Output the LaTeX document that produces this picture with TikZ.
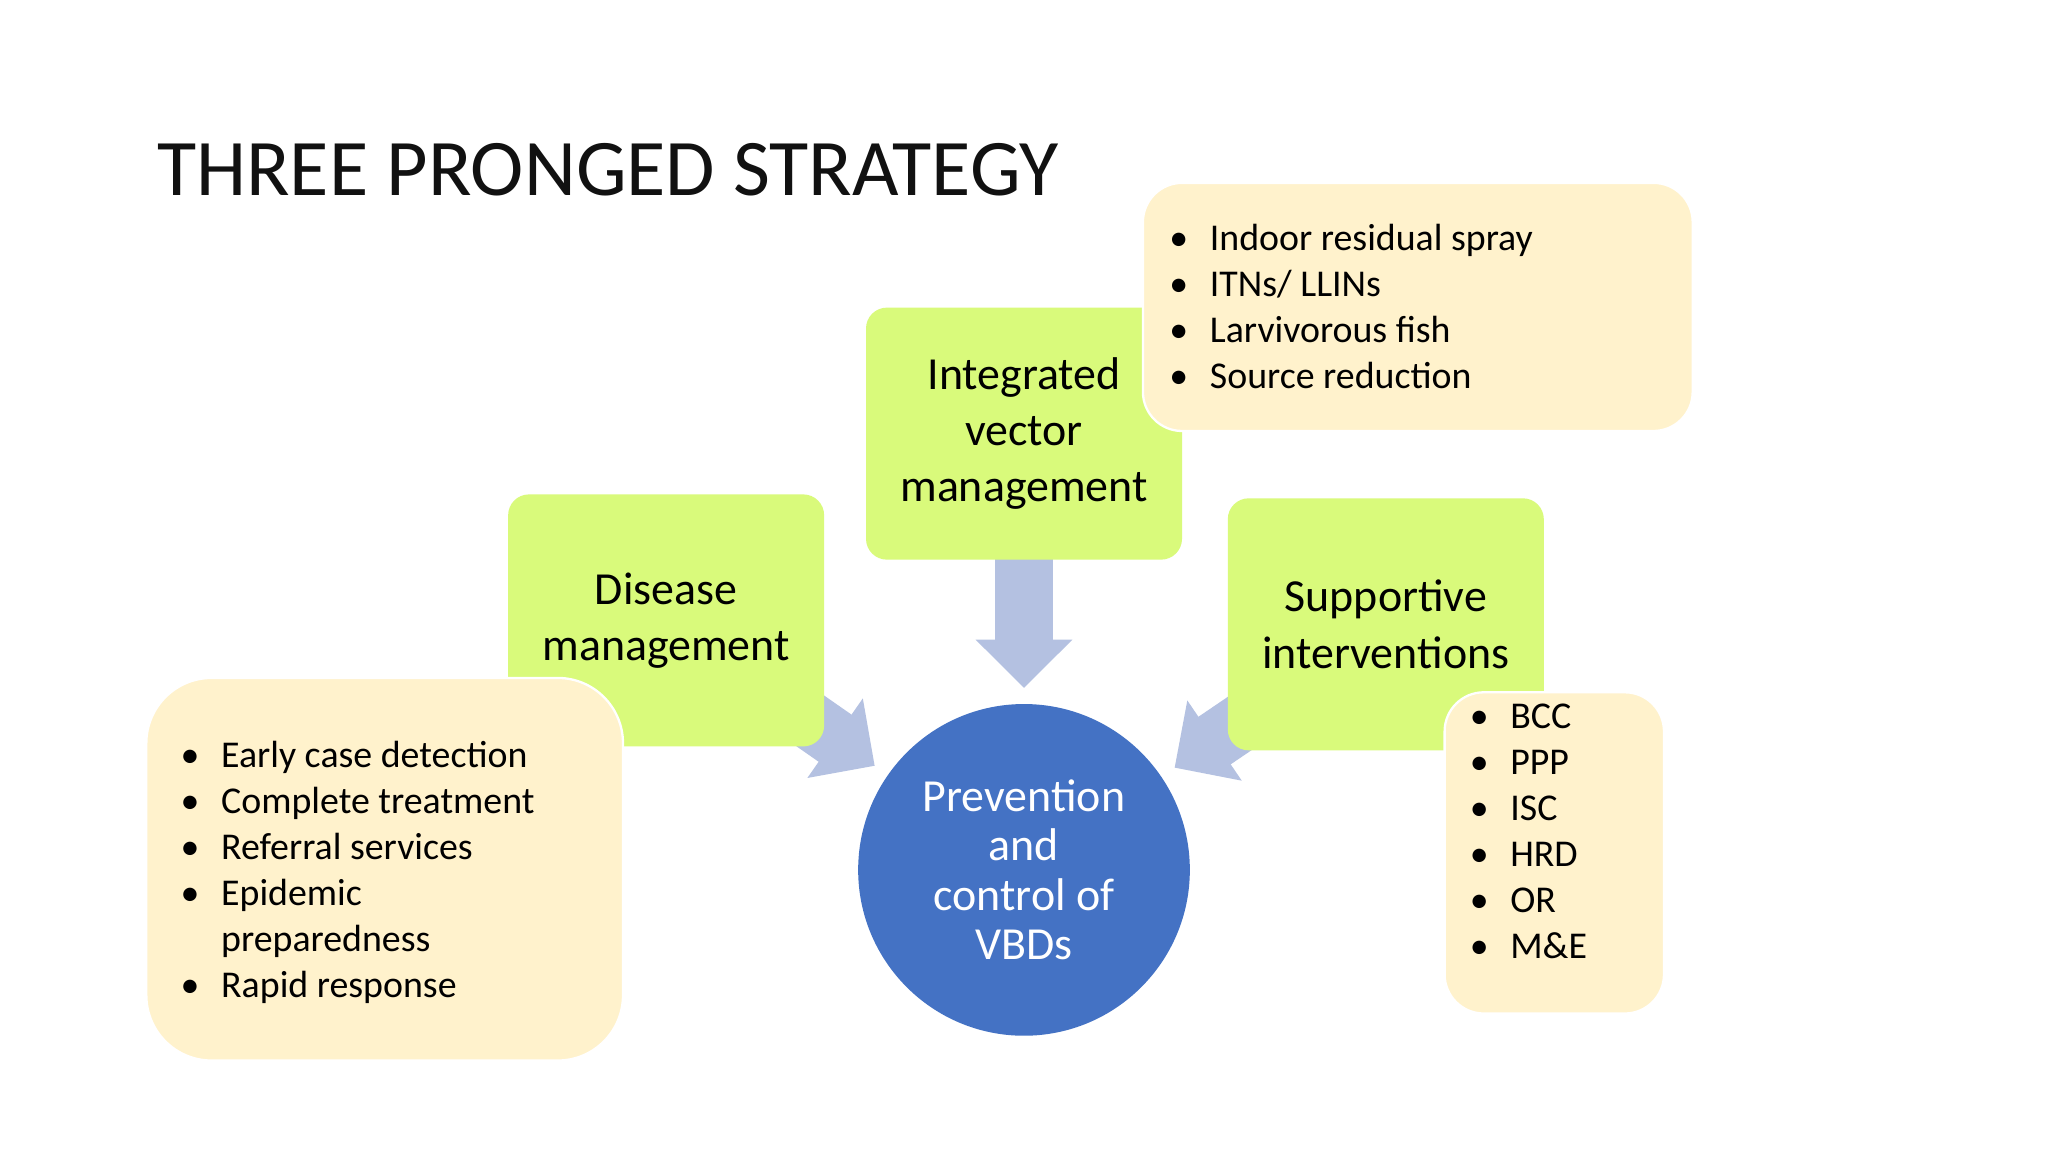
\documentclass[tikz,border=0pt]{standalone}
\usepackage{fontspec}
\setmainfont{Carlito}
\usetikzlibrary{arrows.meta}
\definecolor{boxgreen}{RGB}{217,250,123}
\definecolor{boxbeige}{RGB}{255,242,204}
\definecolor{arrowblue}{RGB}{180,193,225}
\definecolor{hubblue}{RGB}{68,114,196}
\newcommand{\bl}{\makebox[0.62cm][l]{\textbullet}}
\begin{document}
\begin{tikzpicture}[x=0.02cm,y=-0.02cm]
    \tikzstyle{prong}=[rectangle,fill=boxgreen,rounded corners=0.32cm,minimum width=4.84cm,minimum height=3.86cm,inner sep=0pt]
    \tikzstyle{notes}=[rectangle,fill=boxbeige,draw=white,line width=1pt,inner sep=0pt]
    \tikzstyle{label}=[align=center,font=\fontsize{20}{24.5}\selectfont]
    \tikzstyle{list}=[anchor=north west,inner sep=0pt,font=\fontsize{16.5}{20}\selectfont]
    \tikzstyle{feed}=[draw=arrowblue,line width=0.88cm,-{Triangle[width=1.44cm,length=0.74cm]},shorten >=0.24cm]

    \useasboundingbox[fill=white] (0,0) rectangle (1568,882);

    % Title
    \node[anchor=base west,inner sep=0pt,font=\fontsize{35}{42}\selectfont\addfontfeature{Color=111111}] (title) at (120,150) {THREE PRONGED STRATEGY};

    % Centre circle
    \node[circle,fill=hubblue,minimum size=5.08cm,inner sep=0pt,text=white,label,font=\fontsize{20}{21.5}\selectfont] (hub) at (784,666) {Prevention\\and\\control of\\VBDs};

    % Arrows into the centre (behind the boxes)
    \coordinate (dm-c) at (510,475);
    \coordinate (ivm-c) at (784,332);
    \coordinate (si-c) at (1061,478);
    \draw[feed] (dm-c) -- (hub);
    \draw[feed] (ivm-c) -- (hub);
    \draw[feed] (si-c) -- (hub);

    % The three prongs
    \node[prong] (ivm) at (784,332) {};
    \node[label] at (ivm) {Integrated\\vector\\management};
    \node[prong] (dm) at (510,475) {};
    \node[label] at (dm) {Disease\\management};
    \node[prong] (si) at (1061,478) {};
    \node[label] at (si) {Supportive\\interventions};

    % Notes
    \node[notes,rounded corners=0.6cm,minimum width=8.42cm,minimum height=3.8cm] (ivm-notes) at (1085.5,235) {};
    \node[list] (ivm-list) at (895,167) {\begin{tabular}{@{}l@{}l@{}}
        \bl & Indoor residual spray\\
        \bl & ITNs/ LLINs\\
        \bl & Larvivorous fish\\
        \bl & Source reduction
    \end{tabular}};
    \node[notes,rounded corners=1cm,minimum width=7.3cm,minimum height=5.86cm] (dm-notes) at (294.5,665.5) {};
    \node[list] (dm-list) at (138,563) {\begin{tabular}{@{}l@{}l@{}}
        \bl & Early case detection\\
        \bl & Complete treatment\\
        \bl & Referral services\\
        \bl & Epidemic\\
            & preparedness\\
        \bl & Rapid response
    \end{tabular}};
    \node[notes,rounded corners=0.6cm,minimum width=3.36cm,minimum height=4.92cm] (si-notes) at (1190,653) {};
    \node[list] (si-list) at (1125,533) {\begin{tabular}{@{}l@{}l@{}}
        \bl & BCC\\
        \bl & PPP\\
        \bl & ISC\\
        \bl & HRD\\
        \bl & OR\\
        \bl & M\&E
    \end{tabular}};
\end{tikzpicture}
\end{document}
